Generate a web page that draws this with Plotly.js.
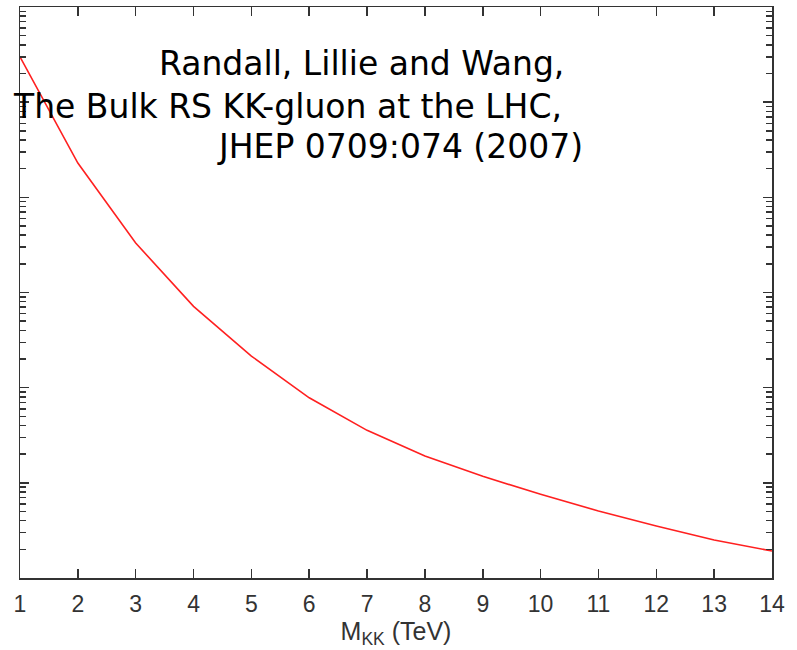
<!DOCTYPE html>
<html>
<head>
<meta charset="utf-8">
<script src="https://cdn.plot.ly/plotly-3.0.1.min.js"></script>
<style>html,body{margin:0;padding:0;background:#fff;}#chart{width:797px;height:650px;}</style>
</head>
<body>
<div id="chart"></div>
<script>
// M_KK in TeV
const massTeV = [1, 2, 3, 4, 5, 6, 7, 8, 9, 10, 11, 12, 13, 14];
// cross section (arbitrary log scale units)
const crossSection = [29.9, 2.29, 0.331, 0.0716, 0.0215, 0.00783, 0.00356, 0.00191, 0.00117, 0.000757, 0.000506, 0.000352, 0.000251, 0.000192];
const xTickVals = [1, 2, 3, 4, 5, 6, 7, 8, 9, 10, 11, 12, 13, 14];
const noteLines = ["Randall, Lillie and Wang,", "The Bulk RS KK-gluon at the LHC,", "JHEP 0709:074 (2007)"];

const trace = {
  x: massTeV, y: crossSection, type: 'scatter', mode: 'lines',
  line: {color: '#ff2020', width: 1.6}, hoverinfo: 'skip'
};

const notePos = [[0.183, 0.901], [-0.01, 0.826], [0.26, 0.755]];
const annotations = noteLines.map((t, i) => ({
  text: t, xref: 'paper', yref: 'paper', x: notePos[i][0], y: notePos[i][1],
  xanchor: 'left', yanchor: 'middle', showarrow: false, borderpad: 0,
  font: {family: 'DejaVu Sans', size: 33, color: '#000'}
}));

const layout = {
  width: 797, height: 650,
  margin: {l: 20, r: 25, t: 7, b: 72},
  paper_bgcolor: '#fff', plot_bgcolor: '#fff',
  showlegend: false,
  xaxis: {
    range: [1, 14], tickvals: xTickVals, ticktext: xTickVals.map(String),
    ticks: 'inside', ticklen: 9, tickwidth: 1.5, tickcolor: '#333',
    showline: true, linecolor: '#333', linewidth: 1.5, mirror: 'ticks',
    showgrid: false, zeroline: false,
    ticklabelstandoff: 5,
    tickfont: {family: 'Liberation Sans', size: 23, color: '#333'},
    title: {text: 'M<sub>KK</sub> (TeV)', font: {family: 'Liberation Sans', size: 25, color: '#333'}, standoff: 5}
  },
  yaxis: {
    type: 'log', range: [-4, 2], dtick: 1,
    ticks: 'inside', ticklen: 9, tickwidth: 1.5, tickcolor: '#333',
    minor: {ticks: 'inside', ticklen: 6, tickwidth: 1.5, tickcolor: '#333', dtick: 'D1', showgrid: false},
    showline: true, linecolor: '#333', linewidth: 1.5, mirror: 'ticks',
    showgrid: false, zeroline: false, showticklabels: false
  },
  annotations: annotations
};

Plotly.newPlot('chart', [trace], layout, {displayModeBar: false, staticPlot: true});
</script>
</body>
</html>
